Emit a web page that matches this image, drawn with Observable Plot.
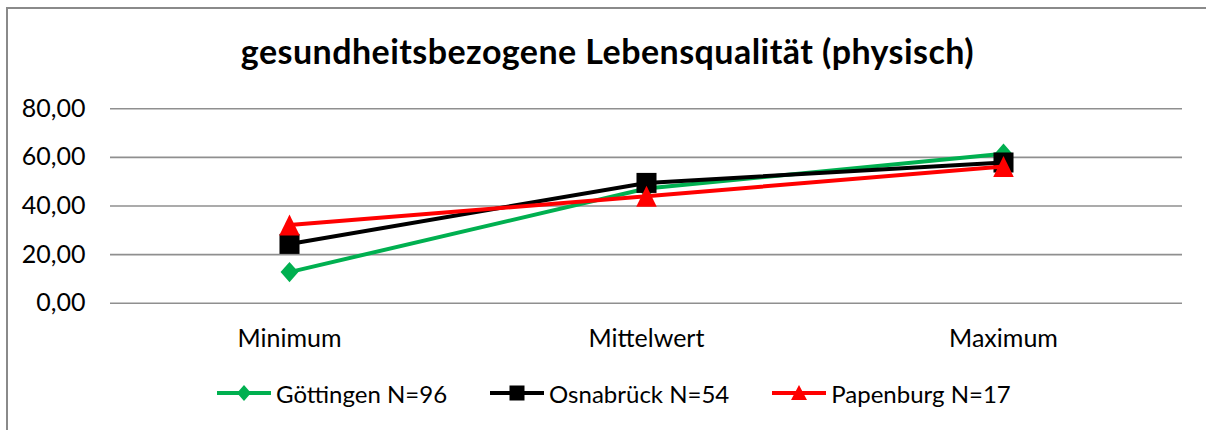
<!DOCTYPE html>
<html><head><meta charset="utf-8">
<script src="https://cdn.jsdelivr.net/npm/d3@7"></script>
<script src="https://cdn.jsdelivr.net/npm/@observablehq/plot@0.6"></script>
<style>
html,body{margin:0;padding:0;background:#fff;}
#wrap{position:relative;width:1206px;height:430px;overflow:hidden;font-family:Lato,"Open Sans",sans-serif;color:#000;}
#frame{position:absolute;left:6px;top:7px;width:1400px;height:600px;border-left:2px solid #8a8a8a;border-top:2px solid #8a8a8a;}
#title{position:absolute;top:34px;left:0;width:1215px;text-align:center;font-weight:bold;font-size:34px;line-height:34px;letter-spacing:0.45px;white-space:nowrap;}
#chart{position:absolute;left:0;top:90px;}
#legend{position:absolute;top:378px;left:217px;height:30px;display:flex;align-items:center;font-size:24px;white-space:nowrap;}
.item{display:flex;align-items:center;margin-right:43px;}
.item span{margin-left:5px;}
</style>
</head><body>
<div id="wrap">
  <div id="frame"></div>
  <div id="title"></div>
  <div id="chart"></div>
  <div id="legend"></div>
</div>
<script>
const chartTitle = "gesundheitsbezogene Lebensqualität (physisch)";
const categories = ["Minimum", "Mittelwert", "Maximum"];
const seriesNames = ["Göttingen N=96", "Osnabrück N=54", "Papenburg N=17"];
const goettingen = [12.8, 47.2, 61.5];
const osnabrueck = [24.4, 49.5, 57.9];
const papenburg = [32.2, 44.0, 56.3];
const yTicks = [0, 20, 40, 60, 80];

const seriesValues = [goettingen, osnabrueck, papenburg];
const colors = ["#00b050", "#000000", "#ff0000"];

// marker shapes (bounding-box centred, like spreadsheet markers)
const diamondSym = {draw(ctx, size){const h = Math.sqrt(size)/2; ctx.moveTo(0,-h*1.08); ctx.lineTo(h*0.95,0); ctx.lineTo(0,h*1.08); ctx.lineTo(-h*0.95,0); ctx.closePath();}};
const squareSym = {draw(ctx, size){const h = Math.sqrt(size)/2; ctx.rect(-h,-h,2*h,2*h);}};
const triangleSym = {draw(ctx, size){const h = Math.sqrt(size)/2; ctx.moveTo(0,-h*1.02); ctx.lineTo(h,h*1.02); ctx.lineTo(-h,h*1.02); ctx.closePath();}};
const symbols = [diamondSym, squareSym, triangleSym];
const symR = [10.6, 11.3, 11.6];

const rows = seriesValues.map((vals, s) => categories.map((c, i) => ({series: seriesNames[s], cat: c, value: vals[i]})));

document.getElementById("title").textContent = chartTitle;

const fmt = d => d.toFixed(2).replace(".", ",");

const marks = [Plot.ruleY(yTicks, {stroke: "#8f8f8f", strokeWidth: 1.6})];
rows.forEach((data, s) => {
  marks.push(Plot.line(data, {x: "cat", y: "value", stroke: colors[s], strokeWidth: 4}));
  marks.push(Plot.dot(data, {x: "cat", y: "value", fill: colors[s], stroke: "none", r: symR[s], symbol: symbols[s]}));
});

const plot = Plot.plot({
  width: 1206,
  height: 270,
  marginLeft: 110,
  marginRight: 24,
  marginTop: 18.3,
  marginBottom: 57.3,
  style: {fontFamily: "Lato, 'Open Sans', sans-serif", fontSize: "25px", color: "#000", background: "transparent", overflow: "visible"},
  x: {type: "point", domain: categories, padding: 0.5, tickSize: 0, tickPadding: 26, label: null},
  y: {domain: [0, 80], ticks: yTicks, tickFormat: fmt, tickSize: 0, tickPadding: 25, label: null},
  marks
});
document.getElementById("chart").appendChild(plot);

// legend
const legend = document.getElementById("legend");
const shapes = [
  '<polygon points="27,4 34,12 27,20 20,12" />',
  '<rect x="19.5" y="4.5" width="15" height="15" />',
  '<polygon points="27,4 35,19 19,19" />'
];
seriesNames.forEach((name, s) => {
  const item = document.createElement("div");
  item.className = "item";
  item.innerHTML = `<svg width="54" height="24"><line x1="0" x2="54" y1="12" y2="12" stroke="${colors[s]}" stroke-width="4"/><g fill="${colors[s]}">${shapes[s]}</g></svg><span>${name}</span>`;
  legend.appendChild(item);
});
</script>
</body></html>
